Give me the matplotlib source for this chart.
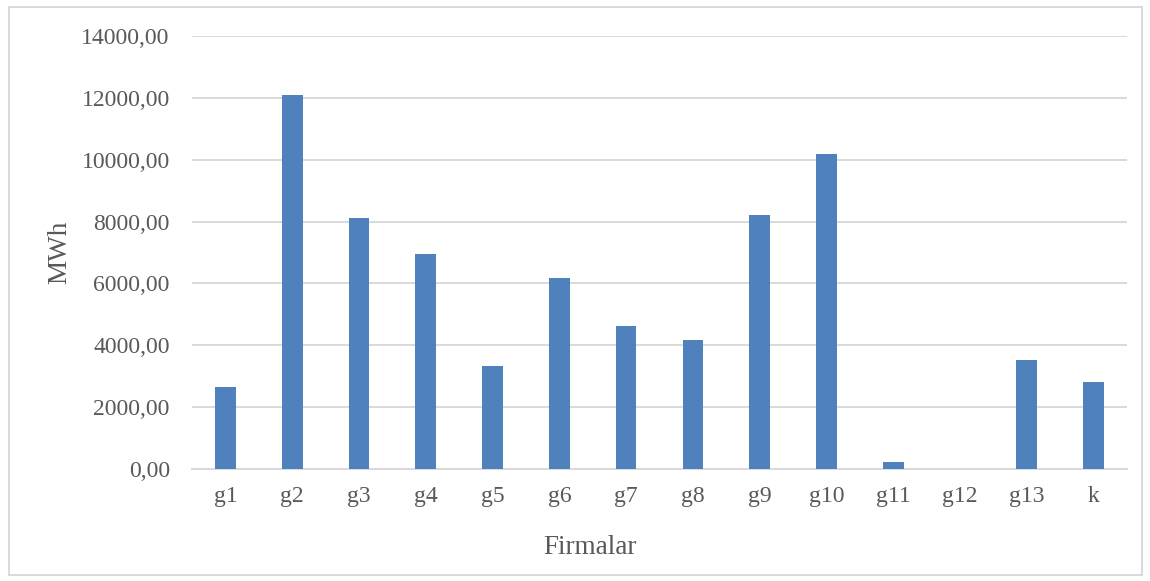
import matplotlib.pyplot as plt
from matplotlib.patches import Rectangle
from matplotlib.ticker import FuncFormatter

firmalar = ["g1", "g2", "g3", "g4", "g5", "g6", "g7", "g8", "g9", "g10", "g11", "g12", "g13", "k"]
mwh = [2650, 12100, 8120, 6940, 3320, 6180, 4630, 4180, 8210, 10170, 240, 0, 3540, 2800]
yticks = [0, 2000, 4000, 6000, 8000, 10000, 12000, 14000]

plt.rcParams['font.family'] = ['Liberation Serif', 'DejaVu Serif']
grey = '#595959'

fig = plt.figure(figsize=(11.5, 5.81), dpi=100)
ax = fig.add_axes([192/1150, 1-469/581, (1127-192)/1150, (469-36)/581])

x = range(len(firmalar))
ax.bar(x, mwh, width=0.31, color='#4F81BD', zorder=3)

ax.set_xlim(-0.5, len(firmalar)-0.5)
ax.set_ylim(0, 14000)
ax.set_yticks(yticks)
ax.yaxis.set_major_formatter(FuncFormatter(lambda v, p: f"{v:.2f}".replace('.', ',')))
ax.set_xticks(list(x))
ax.set_xticklabels(firmalar)
ax.tick_params(axis='both', length=0, labelsize=17, colors=grey)
ax.tick_params(axis='y', pad=16)
ax.tick_params(axis='x', pad=12)
ax.grid(axis='y', color='#d9d9d9', linewidth=1.4, zorder=0)
for s in ['top', 'right', 'left']:
    ax.spines[s].set_visible(False)
ax.spines['bottom'].set_color('#d9d9d9')
ax.spines['bottom'].set_linewidth(1.4)

fig.text(60/1150, 1-252/581, "MWh", rotation=90, ha='center', va='center', fontsize=19.5, color=grey)
fig.text(590/1150, 1-548/581, "Firmalar", ha='center', va='center', fontsize=19.5, color=grey)

fig.patches.append(Rectangle((9/1150, 1-575/581), (1142-9)/1150, (575-7)/581,
                             transform=fig.transFigure, fill=False, edgecolor='#d9d9d9', linewidth=1.4))

fig.savefig("out.png", dpi=100)
